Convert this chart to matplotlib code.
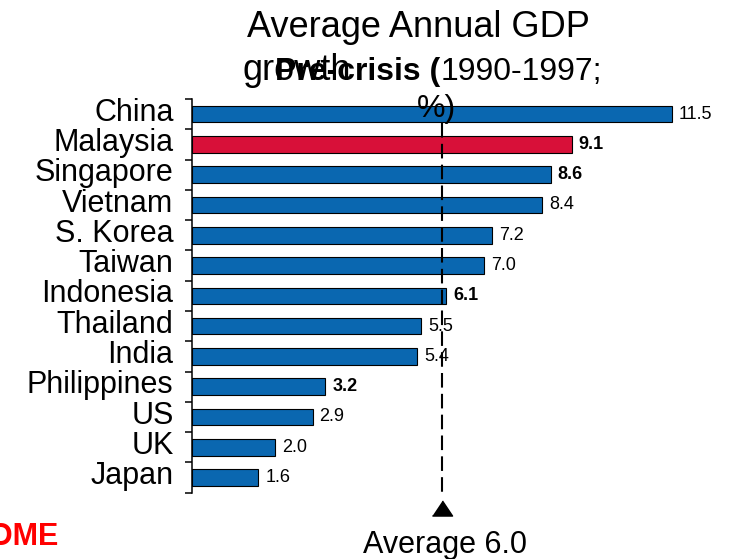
import matplotlib.pyplot as plt
from matplotlib.transforms import ScaledTranslation

plt.rcParams['font.family'] = ['Liberation Sans', 'DejaVu Sans']

countries = ["China", "Malaysia", "Singapore", "Vietnam", "S. Korea", "Taiwan",
             "Indonesia", "Thailand", "India", "Philippines", "US", "UK", "Japan"]
growth = [11.5, 9.1, 8.6, 8.4, 7.2, 7.0, 6.1, 5.5, 5.4, 3.2, 2.9, 2.0, 1.6]
bold_labels = ["Malaysia", "Singapore", "Indonesia", "Philippines"]
highlight = "Malaysia"
average = 6.0

W, H = 738, 559
blue = "#0A67B0"
red = "#D81039"


def fx(px):
    return px / W


def fy(py):
    return 1 - py / H


fig = plt.figure(figsize=(W / 100, H / 100), dpi=100)
ax = fig.add_axes([fx(191.6), fy(492.7), 12.5 * 41.75 / W, (492.7 - 99) / H])

ypos = list(range(len(countries)))
colors = [red if c == highlight else blue for c in countries]
ax.barh(ypos, growth, height=0.55, color=colors, edgecolor="black", linewidth=0.8)

for y, v, c in zip(ypos, growth, countries):
    ax.annotate("{:.1f}".format(v), (v, y), xytext=(5, 0), textcoords="offset points",
                va="center", ha="left", fontsize=13,
                fontweight="bold" if c in bold_labels else "normal")

ax.set_xlim(0, 12.5)
ax.set_ylim(len(countries) - 0.5, -0.5)
ax.set_yticks(ypos)
ax.set_yticklabels(countries, fontsize=22)
ax.tick_params(axis="y", which="major", length=0, pad=13)
ax.set_yticks([i - 0.5 for i in range(len(countries) + 1)], minor=True)
ax.tick_params(axis="y", which="minor", length=5, width=1.1, direction="out")
ax.set_xticks([])
for s in ["top", "right", "bottom"]:
    ax.spines[s].set_visible(False)
ax.spines["left"].set_linewidth(1.1)

# nudge category labels up a little
shift = ScaledTranslation(0, 3.5 / 72, fig.dpi_scale_trans)
for lab in ax.get_yticklabels():
    lab.set_transform(lab.get_transform() + shift)

# average line with arrow
ax.plot([average, average], [0.29, 12.65], color="black", lw=1.5,
        linestyle=(0, (7, 3)), clip_on=False)
tri = [(-1, -0.75), (1, -0.75), (0, 0.75)]
ax.plot([average], [13.0], marker=tri, markersize=14.5, color="black", clip_on=False)
fig.text(fx(445), fy(553), "Average {:.1f}".format(average), ha="center",
         va="baseline", fontsize=22)

# title (overlapping as in original)
fig.text(fx(418), fy(37), "Average Annual GDP", ha="center", va="baseline", fontsize=26)
fig.text(fx(242), fy(80), "growth", ha="left", va="baseline", fontsize=26)
fig.text(fx(440), fy(80), "Pre-crisis (", ha="right", va="baseline", fontsize=23,
         fontweight="bold")
fig.text(fx(441), fy(80), "1990-1997;", ha="left", va="baseline", fontsize=23)
fig.text(fx(437), fy(117), "%)", ha="center", va="baseline", fontsize=23)

fig.text(fx(58), fy(545), "HOME", ha="right", va="baseline", fontsize=22,
         fontweight="bold", color="#FF0000")

fig.savefig("out.png", dpi=100)
